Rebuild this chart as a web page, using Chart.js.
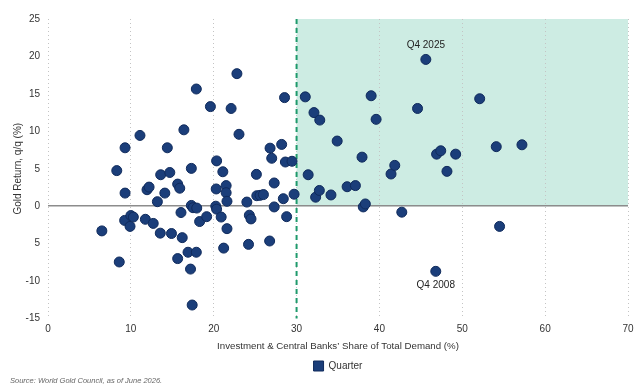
<!DOCTYPE html>
<html>
<head>
<meta charset="utf-8">
<script src="https://cdn.jsdelivr.net/npm/chart.js@4.4.1/dist/chart.umd.min.js"></script>
<style>
  html, body { margin: 0; padding: 0; background: #fff; }
  #wrap { width: 640px; height: 389px; position: relative; }
  #source {
    position: absolute; left: 10px; top: 376px;
    font: italic 7.5px 'Liberation Sans', Arial, sans-serif;
    color: #666; line-height: 10px; white-space: nowrap;
  }
</style>
</head>
<body>
<div id="wrap">
  <canvas id="chart"></canvas>
  <div id="source">Source: World Gold Council, as of June 2026.</div>
</div>
<script>
// Investment & central bank share of total demand (%), per quarter
const shareOfDemand = [
  6.5, 8.3, 8.6, 9.3, 9.3, 9.25, 10.0, 10.3, 9.9, 11.1,
  11.75, 11.95, 12.2, 12.7, 13.2, 13.55, 13.6, 14.1, 14.4, 14.7,
  14.9, 15.65, 15.9, 15.65, 16.05, 16.2, 16.4, 16.9, 17.2, 17.3,
  17.3, 17.4, 17.5, 17.95, 17.9, 17.9, 18.3, 19.15, 19.6, 20.3,
  20.35, 20.25, 20.35, 20.9, 21.1, 21.2, 21.5, 21.5, 21.6, 21.6,
  22.1, 22.8, 23.05, 24.0, 24.3, 24.5, 24.2, 25.15, 25.2, 25.6,
  26.0, 26.75, 26.8, 27.0, 27.3, 27.3, 28.2, 28.4, 28.55, 28.65,
  28.8, 29.45, 29.7,
  31.05, 31.4, 32.1, 32.3, 32.75, 32.8, 34.15, 34.9, 36.1, 37.1,
  37.9, 38.05, 38.3, 39.0, 39.6, 41.4, 41.85, 42.7, 44.6, 45.6,
  46.8, 46.9, 47.4, 48.15, 49.2, 52.1, 54.1, 54.5, 57.2
];
// Gold return, q/q (%), same order
const goldReturn = [
  -3.3, 4.75, -7.45, 7.8, 1.75, -1.9, -1.25, -1.45, -2.7, 9.45,
  -1.75, 2.2, 2.55, -2.3, 0.6, -3.6, 4.2, 1.75, 7.8, 4.5,
  -3.65, 2.95, 2.4, -7.0, -0.85, -4.2, 10.2, -6.15, -8.4, 5.05,
  0.1, -13.2, -0.2, -0.25, 15.65, -6.15, -2.05, -1.4, 13.3, 2.3,
  6.05, 0.0, -0.4, -1.45, 4.6, -5.6, 2.75, 1.8, 0.65, -3.0,
  13.05, 17.7, 9.6, 0.55, -1.2, -1.7, -5.1, 4.25, 1.4, 1.45,
  1.55, -4.65, 7.75, 6.4, 3.1, -0.1, 8.25, 1.0, 14.5, 5.9,
  -1.4, 6.0, 1.6,
  14.6, 4.2, 12.5, 1.2, 2.1, 11.5, 1.5, 8.7, 2.6, 2.75,
  6.55, -0.1, 0.3, 14.75, 11.6, 4.3, 5.45, -0.8, 13.05, 19.6,
  -8.7, 6.95, 7.4, 4.65, 6.95, 14.35, 7.95, -2.7, 8.2
];

const xTickValues = [0, 10, 20, 30, 40, 50, 60, 70];
const yTickValues = [-15, -10, -5, 0, 5, 10, 15, 20, 25];
const yTickLabels = ['-15', '-10', '5', '0', '5', '10', '15', '20', '25'];

// highlighted regime: share above threshold with positive returns
const thresholdShare = 30;
const highlightX = [30, 70];
const highlightY = [0, 25];

// callouts
const calloutLabels = ['Q4 2025', 'Q4 2008'];
const calloutX = [45.6, 46.8];
const calloutY = [19.6, -8.7];

const FONT = "'Liberation Sans', Arial, sans-serif";
const TEXT = '#333333';
const NAVY = '#1b3e7a';

const points = shareOfDemand.map((v, i) => ({x: v, y: goldReturn[i]}));

const regimePlugin = {
  id: 'regime',
  beforeDraw(chart) {
    const {ctx, scales: {x, y}} = chart;
    const left = x.getPixelForValue(highlightX[0]);
    const right = x.getPixelForValue(highlightX[1]);
    const top = y.getPixelForValue(highlightY[1]);
    const bottom = y.getPixelForValue(highlightY[0]);
    ctx.save();
    ctx.fillStyle = '#cdece3';
    ctx.fillRect(left, top, right - left, bottom - top);
    ctx.restore();
  },
  beforeDatasetsDraw(chart) {
    const {ctx, scales: {x, y}} = chart;
    const px = x.getPixelForValue(thresholdShare);
    ctx.save();
    ctx.strokeStyle = '#1f9a6c';
    ctx.lineWidth = 2;
    ctx.setLineDash([5, 4]);
    ctx.beginPath();
    ctx.moveTo(px, y.getPixelForValue(y.max));
    ctx.lineTo(px, y.getPixelForValue(y.min));
    ctx.stroke();
    ctx.restore();
  },
  afterDatasetsDraw(chart) {
    const {ctx, scales: {x, y}} = chart;
    ctx.save();
    ctx.font = '10px ' + FONT;
    ctx.fillStyle = '#222';
    ctx.textAlign = 'center';
    ctx.textBaseline = 'middle';
    for (let i = 0; i < calloutLabels.length; i++) {
      const px = x.getPixelForValue(calloutX[i]);
      const py = y.getPixelForValue(calloutY[i]);
      const dy = calloutY[i] > 0 ? -14 : 14;
      ctx.fillText(calloutLabels[i], px, py + dy);
    }
    ctx.restore();
  }
};

new Chart(document.getElementById('chart'), {
  type: 'scatter',
  data: {
    datasets: [{
      label: 'Quarter',
      data: points,
      backgroundColor: NAVY,
      borderColor: '#102b5c',
      borderWidth: 1,
      pointRadius: 5,
      pointHoverRadius: 5
    }]
  },
  options: {
    responsive: true,
    maintainAspectRatio: false,
    animation: false,
    layout: { padding: { top: 19, right: 12, left: 10, bottom: 8 } },
    plugins: {
      tooltip: { enabled: false },
      legend: {
        position: 'bottom',
        fullSize: false,
        labels: {
          boxWidth: 10,
          boxHeight: 10,
          padding: 6.5,
          color: TEXT,
          font: { family: FONT, size: 10 }
        }
      }
    },
    scales: {
      x: {
        type: 'linear',
        min: 0,
        max: 70,
        afterBuildTicks: s => { s.ticks = xTickValues.map(v => ({value: v})); },
        grid: { color: '#c4c4c4', lineWidth: 1, drawTicks: false },
        border: { display: false, dash: [1, 3] },
        ticks: { color: TEXT, padding: 5, font: { family: FONT, size: 10 } },
        title: {
          display: true,
          text: 'Investment & Central Banks\u2019 Share of Total Demand (%)',
          color: TEXT,
          font: { family: FONT, size: 9.7 },
          padding: { top: 0, bottom: 2 }
        },
        afterFit: s => { s.height = 36; }
      },
      y: {
        type: 'linear',
        min: -15,
        max: 25,
        afterBuildTicks: s => { s.ticks = yTickValues.map(v => ({value: v})); },
        grid: {
          drawTicks: false,
          lineWidth: 1.5,
          color: c => (c.tick && c.tick.value === 0 ? '#8c8c8c' : 'rgba(0,0,0,0)')
        },
        border: { display: false },
        ticks: {
          color: TEXT,
          padding: 8,
          font: { family: FONT, size: 10 },
          callback: v => yTickLabels[yTickValues.indexOf(v)]
        },
        title: {
          display: true,
          text: 'Gold Return, q/q (%)',
          color: TEXT,
          font: { family: FONT, size: 10 },
          padding: { top: 2, bottom: 0 }
        },
        afterFit: s => { s.width = 38; }
      }
    }
  },
  plugins: [regimePlugin]
});
</script>
</body>
</html>
